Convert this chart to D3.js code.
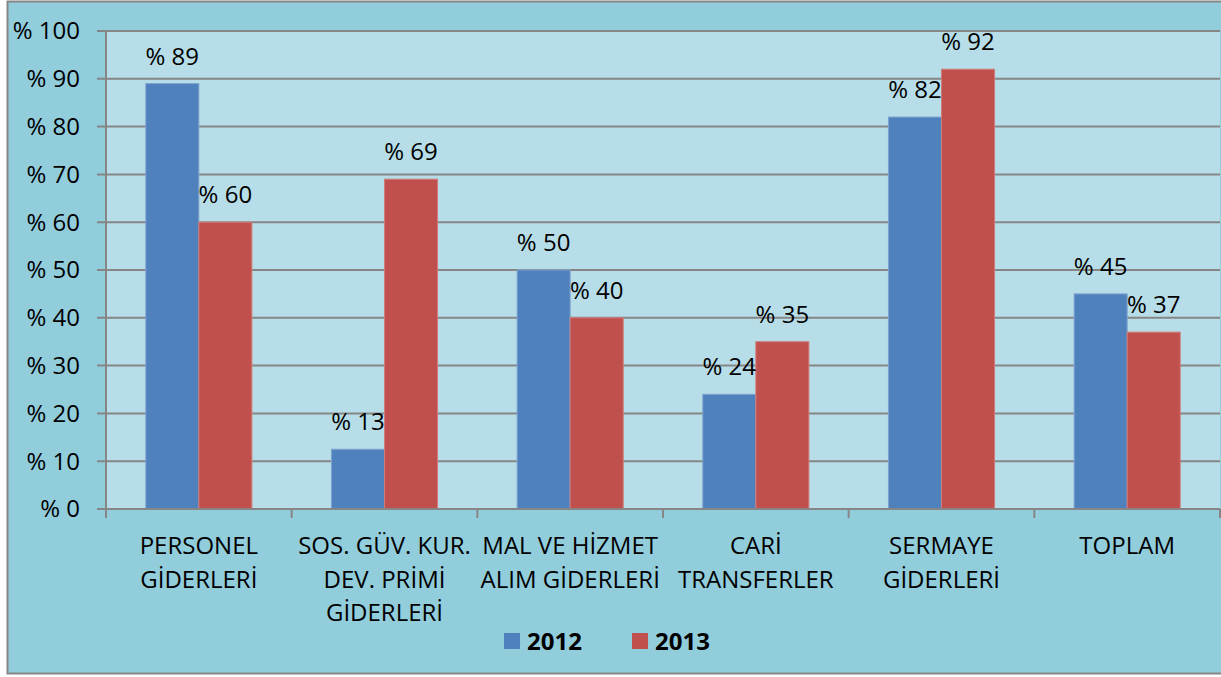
<!DOCTYPE html>
<html>
<head>
<meta charset="utf-8">
<script src="https://cdn.jsdelivr.net/npm/d3@7"></script>
<style>
  body { margin: 0; background: #fff; }
  text { font-family: "Open Sans", "Noto Sans", sans-serif; fill: #000; }
</style>
</head>
<body>
<div id="chart"></div>
<script>
(function(d3) {
  'use strict';

  var categories = [
    ['PERSONEL', 'GİDERLERİ'],
    ['SOS. GÜV. KUR.', 'DEV. PRİMİ', 'GİDERLERİ'],
    ['MAL VE HİZMET', 'ALIM GİDERLERİ'],
    ['CARİ', 'TRANSFERLER'],
    ['SERMAYE', 'GİDERLERİ'],
    ['TOPLAM']
  ];
  var series = ['2012', '2013'];
  var values2012 = [89, 12.5, 50, 24, 82, 45];
  var values2013 = [60, 69, 40, 35, 92, 37];
  var yTicks = [0, 10, 20, 30, 40, 50, 60, 70, 80, 90, 100];

  var width = 1221;
  var height = 677;
  var plot = { left: 106, right: 1220, top: 31, bottom: 509 };

  // fill color
  var color = d3.scaleOrdinal().domain(series).range(['#4F81BD', '#C0504D']);
  var edge = d3.scaleOrdinal().domain(series).range(['#7FA3D0', '#D27C79']);

  var svg = d3.select('#chart')
    .append('svg')
    .attr('width', width)
    .attr('height', height);

  // outer background + border
  svg.append('rect')
    .attr('x', 7.5).attr('y', 1.5)
    .attr('width', width + 10).attr('height', 672)
    .attr('fill', '#92CDDC')
    .attr('stroke', '#868686')
    .attr('stroke-width', 2);

  // plot area
  svg.append('rect')
    .attr('x', plot.left).attr('y', plot.top)
    .attr('width', plot.right - plot.left)
    .attr('height', plot.bottom - plot.top)
    .attr('fill', '#B7DEE8');

  var keys = d3.range(categories.length);

  var x0 = d3.scaleBand()
    .domain(keys)
    .range([plot.left, plot.right]);

  var x1 = d3.scaleBand()
    .domain(series)
    .range([0, x0.bandwidth()])
    .paddingOuter(0.75);

  var y = d3.scaleLinear()
    .domain([0, 100])
    .range([plot.bottom, plot.top]);

  // grid lines
  svg.append('g')
    .selectAll('line')
    .data(yTicks)
    .enter()
    .append('line')
    .attr('x1', plot.left - 9)
    .attr('x2', plot.right)
    .attr('y1', function(d) { return y(d); })
    .attr('y2', function(d) { return y(d); })
    .attr('stroke', '#868686')
    .attr('stroke-width', 2);

  // y axis line
  svg.append('line')
    .attr('x1', plot.left).attr('x2', plot.left)
    .attr('y1', plot.top).attr('y2', plot.bottom)
    .attr('stroke', '#868686')
    .attr('stroke-width', 2);

  // y tick labels
  svg.append('g')
    .selectAll('text')
    .data(yTicks)
    .enter()
    .append('text')
    .attr('x', 80)
    .attr('y', function(d) { return y(d); })
    .attr('dy', '0.35em')
    .attr('text-anchor', 'end')
    .style('font-size', '24px')
    .text(function(d) { return '% ' + d; });

  // x ticks at category boundaries
  var bounds = keys.map(function(k) { return x0(k); }).concat([plot.right]);
  svg.append('g')
    .selectAll('line')
    .data(bounds)
    .enter()
    .append('line')
    .attr('x1', function(d) { return d; })
    .attr('x2', function(d) { return d; })
    .attr('y1', plot.bottom)
    .attr('y2', plot.bottom + 9)
    .attr('stroke', '#868686')
    .attr('stroke-width', 2);

  var rows = keys.map(function(k) {
    return [
      { key: k, s: '2012', v: values2012[k] },
      { key: k, s: '2013', v: values2013[k] }
    ];
  });

  var group = svg.append('g')
    .selectAll('g')
    .data(rows)
    .enter()
    .append('g')
    .attr('transform', function(d, i) { return 'translate(' + x0(i) + ',0)'; });

  group.selectAll('rect')
    .data(function(d) { return d; })
    .enter()
    .append('rect')
    .attr('x', function(d) { return x1(d.s); })
    .attr('y', function(d) { return y(d.v); })
    .attr('width', x1.bandwidth())
    .attr('height', function(d) { return y(0) - y(d.v); })
    .attr('fill', function(d) { return color(d.s); })
    .attr('stroke', function(d) { return edge(d.s); })
    .attr('stroke-width', 1);

  group.selectAll('text')
    .data(function(d) { return d; })
    .enter()
    .append('text')
    .attr('x', function(d) { return x1(d.s) + x1.bandwidth() / 2; })
    .attr('y', function(d) { return y(d.v) - 19; })
    .attr('text-anchor', 'middle')
    .style('font-size', '24px')
    .text(function(d) { return '% ' + Math.round(d.v); });

  // x axis line
  svg.append('line')
    .attr('x1', plot.left).attr('x2', plot.right)
    .attr('y1', plot.bottom).attr('y2', plot.bottom)
    .attr('stroke', '#868686')
    .attr('stroke-width', 2);

  // category labels
  var catLabel = svg.append('g')
    .selectAll('text')
    .data(categories)
    .enter()
    .append('text')
    .attr('text-anchor', 'middle')
    .style('font-size', '24px')
    .attr('transform', function(d, i) {
      return 'translate(' + (x0(i) + x0.bandwidth() / 2) + ',554)';
    });

  catLabel.selectAll('tspan')
    .data(function(d) { return d; })
    .enter()
    .append('tspan')
    .attr('x', 0)
    .attr('y', function(d, i) { return i * 33.5; })
    .text(function(d) { return d; });

  // legend
  var legendX = [504, 632];
  var legend = svg.selectAll('.legend')
    .data(series)
    .enter()
    .append('g')
    .attr('class', 'legend')
    .attr('transform', function(d, i) { return 'translate(' + legendX[i] + ',633)'; });

  legend.append('rect')
    .attr('width', 16)
    .attr('height', 16)
    .style('fill', color);

  legend.append('text')
    .attr('x', 23)
    .attr('y', 17)
    .style('font-size', '24px')
    .style('font-weight', 'bold')
    .text(function(d) { return d; });

})(window.d3);
</script>
</body>
</html>
